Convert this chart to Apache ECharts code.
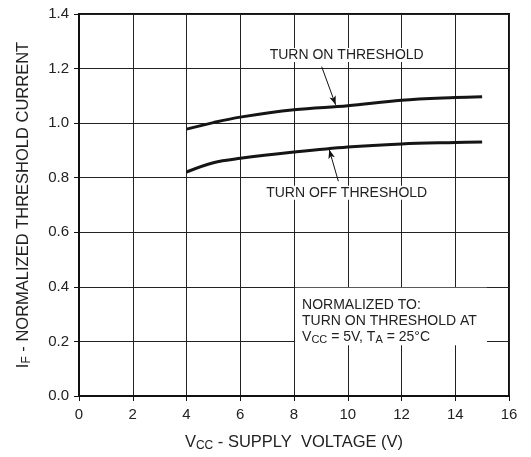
<!DOCTYPE html>
<html><head><meta charset="utf-8">
<script src="https://cdn.jsdelivr.net/npm/echarts@6/dist/echarts.min.js"></script>
<style>html,body{margin:0;padding:0;background:#fff}#c{width:531px;height:457px}</style>
</head><body><div id="c"></div>
<script>
const vcc = [4, 5, 6, 8, 10, 12, 14, 15];
const turnOn = [0.978, 1.002, 1.022, 1.049, 1.064, 1.084, 1.094, 1.097];
const turnOff = [0.821, 0.855, 0.871, 0.894, 0.913, 0.924, 0.929, 0.931];
const xTicks = [0, 2, 4, 6, 8, 10, 12, 14, 16];
const yTicks = [0, 0.2, 0.4, 0.6, 0.8, 1.0, 1.2, 1.4];
const onArrow = [[9.03, 1.207], [9.55, 1.067]];
const offArrow = [[9.65, 0.787], [9.31, 0.903]];
const onLabelAt = [9.96, 1.25];
const offLabelAt = [9.96, 0.745];
const noteBox = [[8.04, 0.4], [15.18, 0.186]];
const noteAt = [8.3, 0.362];

const F = 'Liberation Sans, Arial, Helvetica, sans-serif';
const chart = echarts.init(document.getElementById('c'));
const pair = (xs, ys) => xs.map((x, i) => [x, ys[i]]);
const arrowStyle = {color: '#111', width: 1, type: 'solid'};
const nameRich = {
  n: {fontFamily: F, fontSize: 16.5, color: '#222'},
  s: {fontFamily: F, fontSize: 12, color: '#222', verticalAlign: 'bottom', padding: [8, 0, 0, 0]}
};
chart.setOption({
  animation: false,
  backgroundColor: '#fff',
  grid: {left: 79, right: 22, top: 14, bottom: 60, show: true, borderColor: '#111', borderWidth: 2},
  xAxis: {
    type: 'value', min: xTicks[0], max: xTicks[xTicks.length - 1], interval: 2,
    name: '{n|V}{s|CC}{n| - SUPPLY  VOLTAGE (V)}', nameLocation: 'middle', nameGap: 36,
    nameTextStyle: {rich: nameRich},
    axisLine: {lineStyle: {color: '#111', width: 2}},
    axisTick: {show: true, inside: false, length: 5, lineStyle: {color: '#111', width: 1}},
    axisLabel: {fontFamily: F, fontSize: 15, color: '#222', margin: 11},
    splitLine: {show: true, lineStyle: {color: '#222', width: 1}}
  },
  yAxis: {
    type: 'value', min: yTicks[0], max: yTicks[yTicks.length - 1], interval: 0.2,
    name: '{n|I}{s|F}{n| - NORMALIZED THRESHOLD CURRENT}', nameLocation: 'middle', nameGap: 46, nameRotate: 90,
    nameTextStyle: {rich: nameRich},
    axisLine: {lineStyle: {color: '#111', width: 2}},
    axisTick: {show: true, inside: false, length: 5, lineStyle: {color: '#111', width: 1}},
    axisLabel: {fontFamily: F, fontSize: 15, color: '#222', margin: 10, formatter: v => v.toFixed(1)},
    splitLine: {show: true, lineStyle: {color: '#222', width: 1}}
  },
  series: [
    {type: 'line', name: 'TURN ON THRESHOLD', data: pair(vcc, turnOn), smooth: 0.35, showSymbol: false,
     lineStyle: {color: '#151515', width: 3}, z: 5,
     markLine: {silent: true, symbol: ['none', 'arrow'], symbolSize: [5, 9], label: {show: false}, lineStyle: arrowStyle,
       data: [[{coord: onArrow[0]}, {coord: onArrow[1]}], [{coord: offArrow[0]}, {coord: offArrow[1]}]]}},
    {type: 'line', name: 'TURN OFF THRESHOLD', data: pair(vcc, turnOff), smooth: 0.35, showSymbol: false,
     lineStyle: {color: '#151515', width: 3}, z: 5}
  ]
});

function place() {
  const p = c => chart.convertToPixel({gridIndex: 0}, c);
  const b0 = p(noteBox[0]), b1 = p(noteBox[1]);
  const on = p(onLabelAt), off = p(offLabelAt), nt = p(noteAt);
  const txt = {fontFamily: F, fontSize: 14, fill: '#222'};
  chart.setOption({graphic: [
    {type: 'rect', shape: {x: b0[0], y: b0[1] + 1, width: b1[0] - b0[0], height: b1[1] - b0[1] - 1}, style: {fill: '#fff'}, z: 3},
    {type: 'text', x: on[0], y: on[1], style: Object.assign({text: 'TURN ON THRESHOLD', align: 'center', verticalAlign: 'middle', backgroundColor: '#fff'}, txt), z: 10},
    {type: 'text', x: off[0], y: off[1], style: Object.assign({text: 'TURN OFF THRESHOLD', align: 'center', verticalAlign: 'middle', backgroundColor: '#fff'}, txt), z: 10},
    {type: 'text', x: nt[0], y: nt[1], z: 10, style: {
      text: '{n|NORMALIZED TO:}\n{n|TURN ON THRESHOLD AT}\n{n|V}{s|CC}{n| = 5V, T}{s|A}{n| = 25°C}',
      align: 'left', verticalAlign: 'top', lineHeight: 16,
      rich: {n: {fontFamily: F, fontSize: 14, fill: '#222', lineHeight: 16}, s: {fontFamily: F, fontSize: 11, fill: '#222', verticalAlign: 'bottom', padding: [6, 0, 0, 0], lineHeight: 16}}
    }}
  ]});
}
place();
</script></body></html>
